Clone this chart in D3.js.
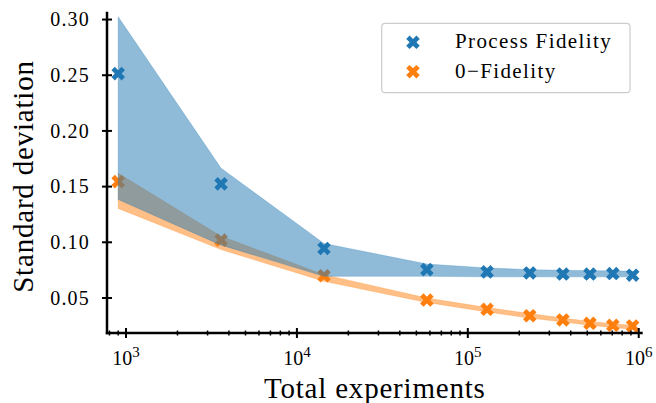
<!DOCTYPE html>
<html>
<head>
<meta charset="utf-8">
<script src="https://cdn.jsdelivr.net/npm/d3@7/dist/d3.min.js"></script>
<style>
body { margin: 0; background: #fff; }
text { font-family: "Liberation Serif", serif; fill: #000; }
</style>
</head>
<body>
<div id="chart"></div>
<script>
var experiments = [900, 3600, 14400, 57600, 129600, 230400, 360000, 518400, 705600, 921600];

var processFid = [0.251, 0.152, 0.094, 0.075, 0.073, 0.072, 0.071, 0.071, 0.0715, 0.070];
var processUpper = [0.302, 0.166, 0.0985, 0.080, 0.0765, 0.075, 0.0745, 0.074, 0.074, 0.0735];
var processLower = [0.138, 0.097, 0.069, 0.069, 0.0685, 0.0685, 0.0685, 0.0685, 0.0685, 0.0685];

var zeroFid = [0.154, 0.1015, 0.0695, 0.0477, 0.0394, 0.0336, 0.0298, 0.0268, 0.025, 0.0244];
var zeroUpper = [0.1615, 0.105, 0.0705, 0.0495, 0.041, 0.0355, 0.0315, 0.0285, 0.0265, 0.025];
var zeroLower = [0.130, 0.093, 0.0645, 0.0455, 0.037, 0.0315, 0.028, 0.025, 0.023, 0.0215];

var yTicks = [0.05, 0.10, 0.15, 0.20, 0.25, 0.30];
var xTicks = [1e3, 1e4, 1e5, 1e6];
var seriesNames = ["Process Fidelity", "0\u2212Fidelity"];
var colors = ["#1f77b4", "#ff7f0e"];

var width = 656, height = 403;
var mLeft = 107, mRight = 642.7, mTop = 11.7, mBottom = 333;

var svg = d3.select("#chart").append("svg").attr("width", width).attr("height", height);

var x = d3.scaleLog().domain([774, 1.055e6]).range([mLeft, mRight]);
var y = d3.scaleLinear().domain([0.0181, 0.3066]).range([mBottom, mTop]);

var idx = d3.range(experiments.length);

function band(up, lo) {
    return d3.area()
        .x(function(i){ return x(experiments[i]); })
        .y0(function(i){ return y(lo[i]); })
        .y1(function(i){ return y(up[i]); })(idx);
}

var marker = d3.symbol().type(d3.symbolCross).size(115);

function drawMarks(vals, color) {
    svg.append("g").selectAll("path")
        .data(idx)
        .enter()
        .append("path")
        .attr("d", marker)
        .attr("transform", function(i){ return "translate(" + x(experiments[i]) + "," + y(vals[i]) + ") rotate(45)"; })
        .attr("fill", color);
}

// orange band + marks first, blue band covers them
svg.append("path").attr("d", band(zeroUpper, zeroLower))
    .attr("fill", colors[1]).attr("fill-opacity", 0.5)
    .attr("stroke", colors[1]).attr("stroke-opacity", 0.25).attr("stroke-width", 1);
drawMarks(zeroFid, colors[1]);

svg.append("path").attr("d", band(processUpper, processLower))
    .attr("fill", colors[0]).attr("fill-opacity", 0.5)
    .attr("stroke", colors[0]).attr("stroke-opacity", 0.25).attr("stroke-width", 1);
drawMarks(processFid, colors[0]);

// axes
var yAxis = d3.axisLeft(y).tickValues(yTicks).tickFormat(d3.format(".2f")).tickSize(0).tickPadding(17);
var gy = svg.append("g").attr("transform", "translate(" + mLeft + ",0)").call(yAxis);
gy.select(".domain").remove();
gy.selectAll("text").attr("font-size", 20).attr("font-family", "Liberation Serif")
    .attr("letter-spacing", 1.2).attr("dy", "0.34em");
gy.selectAll(".tick").append("line").attr("x1", -5).attr("x2", 5).attr("stroke", "#000").attr("stroke-width", 2);

var minor = [];
[100, 1000, 10000, 100000].forEach(function(d){
    for (var k = 2; k < 10; k++) {
        var v = d * k;
        if (v > 774 && v < 1.055e6 && xTicks.indexOf(v) < 0) minor.push(v);
    }
});

var gx = svg.append("g").attr("transform", "translate(0," + mBottom + ")");
gx.selectAll(".minor").data(minor).enter().append("line")
    .attr("x1", function(d){ return x(d); }).attr("x2", function(d){ return x(d); })
    .attr("y1", -2.5).attr("y2", 2.5).attr("stroke", "#000").attr("stroke-width", 1.5);
gx.selectAll(".major").data(xTicks).enter().append("line")
    .attr("x1", function(d){ return x(d); }).attr("x2", function(d){ return x(d); })
    .attr("y1", -5).attr("y2", 5).attr("stroke", "#000").attr("stroke-width", 2);

var xl = gx.selectAll(".lbl").data(xTicks).enter().append("text")
    .attr("x", function(d){ return x(d); })
    .attr("y", 32)
    .attr("text-anchor", "middle")
    .attr("font-size", 20);
xl.append("tspan").text("10");
xl.append("tspan").attr("dy", -8).attr("font-size", 15).text(function(d){ return Math.round(Math.log10(d)); });

// spines
svg.append("line").attr("x1", mLeft).attr("x2", mLeft).attr("y1", mTop).attr("y2", mBottom + 1.2)
    .attr("stroke", "#000").attr("stroke-width", 2.5);
svg.append("line").attr("x1", mLeft - 1.2).attr("x2", mRight).attr("y1", mBottom).attr("y2", mBottom)
    .attr("stroke", "#000").attr("stroke-width", 2.5);

// axis labels
svg.append("text").attr("x", (mLeft + mRight) / 2).attr("y", 398)
    .attr("text-anchor", "middle").attr("font-size", 29).attr("letter-spacing", 0.8)
    .text("Total experiments");
svg.append("text").attr("transform", "translate(33,176.5) rotate(-90)")
    .attr("text-anchor", "middle").attr("font-size", 29).attr("letter-spacing", 0.8)
    .text("Standard deviation");

// legend
var legend = svg.append("g");
legend.append("rect").attr("x", 381.7).attr("y", 23.3).attr("width", 248.3).attr("height", 69.4)
    .attr("rx", 3.5).attr("fill", "#fff").attr("fill-opacity", 0.8)
    .attr("stroke", "#cccccc").attr("stroke-width", 1.2);
legend.selectAll(".lm").data(seriesNames).enter().append("path")
    .attr("d", marker)
    .attr("transform", function(d, i){ return "translate(413," + (42.3 + i * 29.4) + ") rotate(45)"; })
    .attr("fill", function(d, i){ return colors[i]; });
legend.selectAll(".lt").data(seriesNames).enter().append("text")
    .attr("x", 455)
    .attr("y", function(d, i){ return 48.3 + i * 30; })
    .attr("font-size", 21)
    .attr("letter-spacing", 1.4)
    .text(function(d){ return d; });
</script>
</body>
</html>
